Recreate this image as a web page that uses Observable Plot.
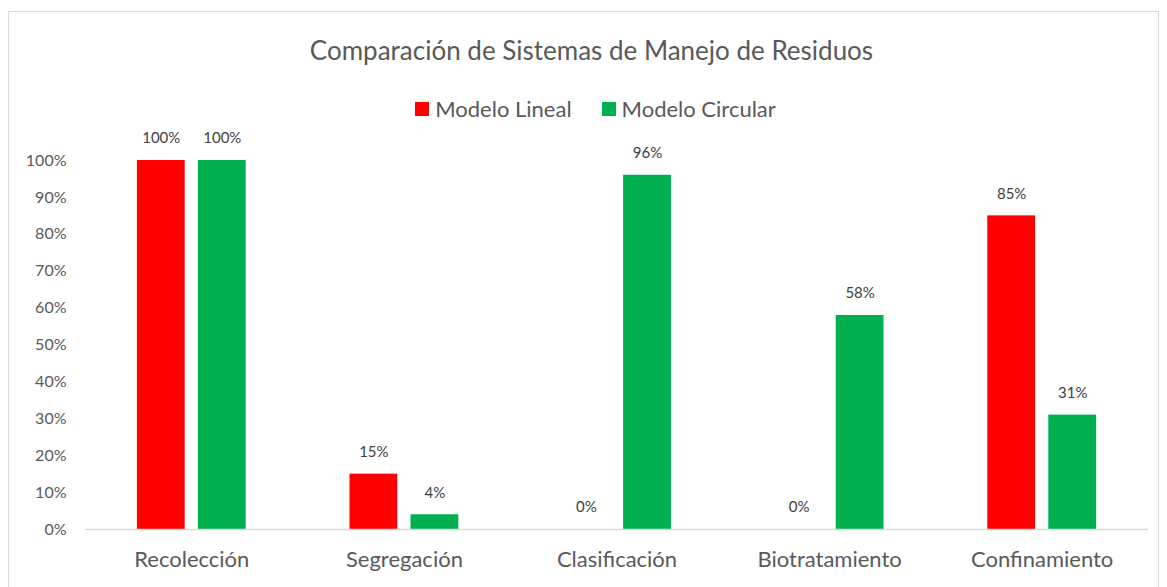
<!DOCTYPE html>
<html>
<head>
<meta charset="utf-8">
<script src="https://cdn.jsdelivr.net/npm/d3@7"></script>
<script src="https://cdn.jsdelivr.net/npm/@observablehq/plot@0.6"></script>
<style>
  body { margin: 0; background: #fff; font-family: Lato, "Open Sans", sans-serif; }
  #wrap { position: relative; width: 1167px; height: 587px; overflow: hidden; }
  #frame { position: absolute; left: 8px; top: 11px; width: 1151px; height: 600px; border: 1px solid #d9d9d9; box-sizing: border-box; }
  #title { position: absolute; left: 8px; width: 1167px; top: 34px; text-align: center; font-size: 26px; color: #595959; }
  #legend { position: absolute; left: 12px; width: 1167px; top: 95px; display: flex; justify-content: center; gap: 30px; font-size: 22px; color: #595959; }
  #legend span.item { display: flex; align-items: center; gap: 6px; }
  #legend span.sw { display: inline-block; width: 14px; height: 14px; }
  #chart { position: absolute; left: 0; top: 0; }
</style>
</head>
<body>
<div id="wrap">
  <div id="frame"></div>
  <div id="chart"></div>
  <div id="title">Comparación de Sistemas de Manejo de Residuos</div>
  <div id="legend"></div>
</div>
<script>
const categories = ["Recolección", "Segregación", "Clasificación", "Biotratamiento", "Confinamiento"];
const seriesNames = ["Modelo Lineal", "Modelo Circular"];
const seriesColors = ["#FF0000", "#00B050"];
const modeloLineal = [1.00, 0.15, 0.00, 0.00, 0.85];
const modeloCircular = [1.00, 0.04, 0.96, 0.58, 0.31];
const yTicks = [0, 0.1, 0.2, 0.3, 0.4, 0.5, 0.6, 0.7, 0.8, 0.9, 1.0];

const rows = [];
categories.forEach((c, i) => {
  rows.push({categoria: c, serie: seriesNames[0], valor: modeloLineal[i]});
  rows.push({categoria: c, serie: seriesNames[1], valor: modeloCircular[i]});
});

const legend = document.getElementById("legend");
seriesNames.forEach((s, i) => {
  const it = document.createElement("span");
  it.className = "item";
  const sw = document.createElement("span");
  sw.className = "sw";
  sw.style.background = seriesColors[i];
  it.appendChild(sw);
  it.appendChild(document.createTextNode(s));
  legend.appendChild(it);
});

const chart = Plot.plot({
  width: 1167,
  height: 587,
  marginTop: 160,
  marginBottom: 58,
  marginLeft: 85,
  marginRight: 19,
  style: {fontFamily: "Lato, 'Open Sans', sans-serif", background: "transparent", color: "#595959"},
  fx: {domain: categories, padding: 0, round: false, label: null, axis: null},
  x: {domain: seriesNames, paddingInner: 0.2167, paddingOuter: 0.85, round: false, axis: null},
  y: {domain: [0, 1], label: null},
  color: {domain: seriesNames, range: seriesColors},
  marks: [
    Plot.barY(rows, {fx: "categoria", x: "serie", y: "valor", fill: "serie"}),
    Plot.ruleY([0], {stroke: "#d9d9d9", strokeWidth: 1.5}),
    Plot.text(rows, {fx: "categoria", x: "serie", y: "valor", text: d => Math.round(d.valor * 100) + "%", dy: -22, fontSize: 15, fill: "#404040"}),
    Plot.axisY({ticks: yTicks, tickFormat: d => Math.round(d * 100) + "%", tickSize: 0, tickPadding: 19, fontSize: 16, label: null, fill: "#595959"}),
    Plot.axisFx({anchor: "bottom", tickSize: 0, tickPadding: 22, fontSize: 22, label: null, fill: "#595959"})
  ]
});
document.getElementById("chart").appendChild(chart);
</script>
</body>
</html>
